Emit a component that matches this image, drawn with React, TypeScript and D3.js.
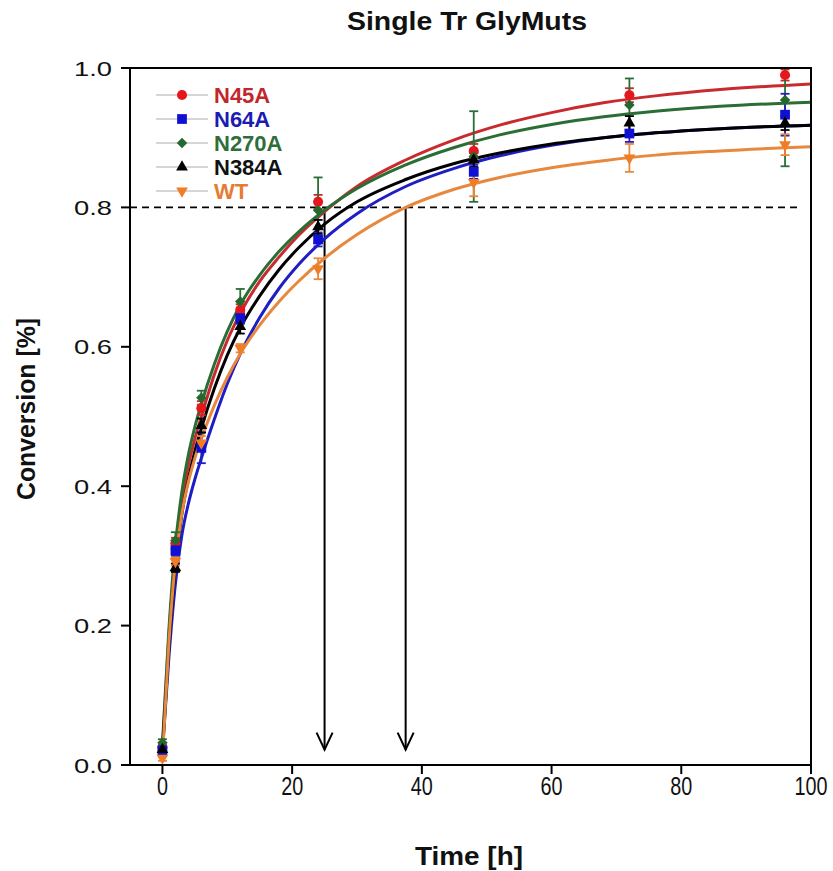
import React from "react";
import * as d3 from "d3";

const times = [0, 2, 6, 12, 24, 48, 72, 96];
const seriesNames = ["N45A", "N64A", "N270A", "N384A", "WT"];

const n45aValues = [0.025, 0.318, 0.512, 0.653, 0.808, 0.881, 0.961, 0.99];
const n45aErrors = [0.004, 0.008, 0.01, 0.008, 0.01, 0.01, 0.01, 0.008];
const n64aValues = [0.021, 0.308, 0.455, 0.641, 0.754, 0.851, 0.906, 0.933];
const n64aErrors = [0.004, 0.008, 0.022, 0.008, 0.01, 0.01, 0.012, 0.03];
const n270aValues = [0.032, 0.322, 0.527, 0.665, 0.796, 0.873, 0.947, 0.954];
const n270aErrors = [0.005, 0.012, 0.01, 0.018, 0.047, 0.065, 0.038, 0.095];
const n384aValues = [0.022, 0.283, 0.487, 0.629, 0.772, 0.868, 0.921, 0.921];
const n384aErrors = [0.004, 0.006, 0.01, 0.01, 0.01, 0.01, 0.01, 0.01];
const wtValues = [0.01, 0.292, 0.462, 0.598, 0.712, 0.836, 0.871, 0.89];
const wtErrors = [0.004, 0.006, 0.01, 0.006, 0.015, 0.02, 0.02, 0.015];

// fitted curves
const fitTimes = [0, 1, 2, 3, 4, 5, 6, 8, 10, 12, 15, 18, 21, 25, 30, 37.5, 45, 52, 60, 68, 76, 86, 100];
const n45aFit = [0.025, 0.185, 0.305, 0.38, 0.43, 0.468, 0.5, 0.56, 0.609, 0.648, 0.694, 0.729, 0.76, 0.794, 0.83, 0.868, 0.897, 0.918, 0.936, 0.95, 0.96, 0.969, 0.977];
const n64aFit = [0.02, 0.155, 0.26, 0.33, 0.375, 0.41, 0.44, 0.496, 0.547, 0.59, 0.642, 0.684, 0.718, 0.755, 0.791, 0.83, 0.856, 0.874, 0.889, 0.9, 0.907, 0.913, 0.918];
const n270aFit = [0.03, 0.195, 0.315, 0.392, 0.445, 0.485, 0.518, 0.575, 0.622, 0.66, 0.703, 0.737, 0.765, 0.796, 0.827, 0.861, 0.886, 0.904, 0.919, 0.93, 0.938, 0.945, 0.951];
const n384aFit = [0.02, 0.17, 0.285, 0.36, 0.41, 0.45, 0.483, 0.54, 0.588, 0.627, 0.673, 0.711, 0.742, 0.776, 0.808, 0.84, 0.863, 0.878, 0.891, 0.9, 0.907, 0.913, 0.918];
const wtFit = [0.01, 0.176, 0.291, 0.361, 0.406, 0.44, 0.468, 0.516, 0.556, 0.59, 0.631, 0.665, 0.694, 0.727, 0.761, 0.8, 0.826, 0.843, 0.857, 0.867, 0.875, 0.881, 0.887];

const xTicks = [0, 20, 40, 60, 80, 100];
const yTicks = [0, 0.2, 0.4, 0.6, 0.8, 1.0];
const arrowTimes = [25, 37.5];
const threshold = 0.8;
const arrowTipValue = 0.022;

const colors = {
  N45A: { line: "#c92a2e", mark: "#e5171c", text: "#c1272d" },
  N64A: { line: "#1e1ec4", mark: "#1010d4", text: "#1c1cb0" },
  N270A: { line: "#2a6e36", mark: "#24682f", text: "#2f6e3a" },
  N384A: { line: "#000000", mark: "#000000", text: "#111111" },
  WT: { line: "#e8883c", mark: "#f07c26", text: "#e57c30" },
};

const seriesData = [
  { name: "N45A", values: n45aValues, errors: n45aErrors, fit: n45aFit, sym: "circle" },
  { name: "N64A", values: n64aValues, errors: n64aErrors, fit: n64aFit, sym: "square" },
  { name: "N270A", values: n270aValues, errors: n270aErrors, fit: n270aFit, sym: "diamond" },
  { name: "N384A", values: n384aValues, errors: n384aErrors, fit: n384aFit, sym: "triangle" },
  { name: "WT", values: wtValues, errors: wtErrors, fit: wtFit, sym: "triangleDown" },
];

const drawOrder = ["N45A", "N270A", "N64A", "N384A", "WT"];

function symbolPath(sym: string) {
  if (sym === "circle") return d3.symbol(d3.symbolCircle, 80)();
  if (sym === "square") return d3.symbol(d3.symbolSquare, 95)();
  if (sym === "diamond") return d3.symbol(d3.symbolSquare, 55)();
  return d3.symbol(d3.symbolTriangle, 60)();
}
function symbolRotate(sym: string) {
  if (sym === "diamond") return 45;
  if (sym === "triangleDown") return 180;
  return 0;
}

const FONT = "'Liberation Sans', Arial, Helvetica, sans-serif";
const NARROW = "'Liberation Sans Narrow', 'Liberation Sans', Arial, sans-serif";

export default function App() {
  const W = 833, H = 871;
  const x = d3.scaleLinear().domain([-5, 100]).range([130, 811]);
  const y = d3.scaleLinear().domain([0, 1]).range([765, 68]);
  const line = d3
    .line<number>()
    .x((_, i) => x(fitTimes[i]))
    .y((d) => y(d))
    .curve(d3.curveMonotoneX);

  const ordered = drawOrder.map((n) => seriesData.find((s) => s.name === n)!);
  const legendY = [95, 119, 143, 167, 191];

  return (
    <svg width={W} height={H} style={{ position: "absolute", left: 0, top: 0, display: "block", background: "#fff" }}>
      <defs>
        <clipPath id="plotClip">
          <rect x={x(-5)} y={y(1)} width={x(100) - x(-5)} height={y(0) - y(1)} />
        </clipPath>
      </defs>
      <rect x={0} y={0} width={W} height={H} fill="#fff" />

      {/* title */}
      <text x={467} y={30} textAnchor="middle" fontFamily={FONT} fontWeight="bold" fontSize={25} textLength={240} lengthAdjust="spacingAndGlyphs" fill="#111">
        Single Tr GlyMuts
      </text>

      {/* dashed threshold line */}
      <line x1={x(-5)} x2={x(98)} y1={y(threshold)} y2={y(threshold)} stroke="#000" strokeWidth={1.6} strokeDasharray="7,5" />

      {/* arrows */}
      {arrowTimes.map((t, i) => {
        const ax = x(t);
        const tip = y(arrowTipValue);
        return (
          <g key={"arrow" + i} stroke="#000" strokeWidth={2} fill="none">
            <line x1={ax} x2={ax} y1={y(threshold)} y2={tip} />
            <polyline points={`${ax - 8},${tip - 17} ${ax},${tip} ${ax + 8},${tip - 17}`} />
          </g>
        );
      })}

      <g clipPath="url(#plotClip)">
        {/* fit curves */}
        {ordered.map((s) => (
          <path key={"fit" + s.name} d={line(s.fit) || ""} fill="none" stroke={(colors as any)[s.name].line} strokeWidth={3} />
        ))}
        {/* error bars */}
        {ordered.map((s) => (
          <g key={"err" + s.name} stroke={(colors as any)[s.name].line} strokeWidth={1.8}>
            {times.map((t, i) => {
              const cx = x(t);
              const y1 = y(s.values[i] + s.errors[i]);
              const y2 = y(s.values[i] - s.errors[i]);
              return (
                <g key={i}>
                  <line x1={cx} x2={cx} y1={y1} y2={y2} />
                  <line x1={cx - 4.5} x2={cx + 4.5} y1={y1} y2={y1} />
                  <line x1={cx - 4.5} x2={cx + 4.5} y1={y2} y2={y2} />
                </g>
              );
            })}
          </g>
        ))}
        {/* markers */}
        {ordered.map((s) => (
          <g key={"mk" + s.name} fill={(colors as any)[s.name].mark}>
            {times.map((t, i) => (
              <path key={i} d={symbolPath(s.sym) || ""} transform={`translate(${x(t)},${y(s.values[i])}) rotate(${symbolRotate(s.sym)})`} />
            ))}
          </g>
        ))}
      </g>

      {/* frame */}
      <rect x={x(-5)} y={y(1)} width={x(100) - x(-5)} height={y(0) - y(1)} fill="none" stroke="#000" strokeWidth={2} />

      {/* y axis ticks */}
      {yTicks.map((v) => (
        <g key={"yt" + v}>
          <line x1={x(-5) - 9} x2={x(-5)} y1={y(v)} y2={y(v)} stroke="#000" strokeWidth={2} />
          <text x={112} y={y(v) + 7.5} textAnchor="end" fontFamily={FONT} fontSize={21} textLength={38} lengthAdjust="spacingAndGlyphs" fill="#111">
            {d3.format(".1f")(v)}
          </text>
        </g>
      ))}

      {/* x axis ticks */}
      {xTicks.map((v) => {
        const label = String(v);
        return (
          <g key={"xt" + v}>
            <line x1={x(v)} x2={x(v)} y1={y(0)} y2={y(0) + 9} stroke="#000" strokeWidth={2} />
            <text transform={`translate(${x(v)},795) scale(1,1.14)`} textAnchor="middle" fontFamily={FONT} fontSize={22} textLength={label.length * 11} lengthAdjust="spacingAndGlyphs" fill="#111">
              {label}
            </text>
          </g>
        );
      })}

      {/* axis labels */}
      <text x={469} y={865} textAnchor="middle" fontFamily={NARROW} fontWeight="bold" fontSize={26} textLength={108} lengthAdjust="spacingAndGlyphs" fill="#111">
        Time [h]
      </text>
      <text transform={`translate(35,409) rotate(-90)`} textAnchor="middle" fontFamily={NARROW} fontWeight="bold" fontSize={26} textLength={182} lengthAdjust="spacingAndGlyphs" fill="#111">
        Conversion [%]
      </text>

      {/* legend */}
      {seriesNames.map((n, i) => {
        const s = seriesData.find((d) => d.name === n)!;
        const ly = legendY[i];
        return (
          <g key={"lg" + n}>
            <line x1={156} x2={208} y1={ly} y2={ly} stroke="#c8c8c8" strokeWidth={1.5} />
            <path d={symbolPath(s.sym) || ""} transform={`translate(182,${ly}) rotate(${symbolRotate(s.sym)})`} fill={(colors as any)[n].mark} />
            <text x={214} y={ly + 8} fontFamily={FONT} fontWeight="bold" fontSize={22} fill={(colors as any)[n].text}>
              {n}
            </text>
          </g>
        );
      })}
    </svg>
  );
}
